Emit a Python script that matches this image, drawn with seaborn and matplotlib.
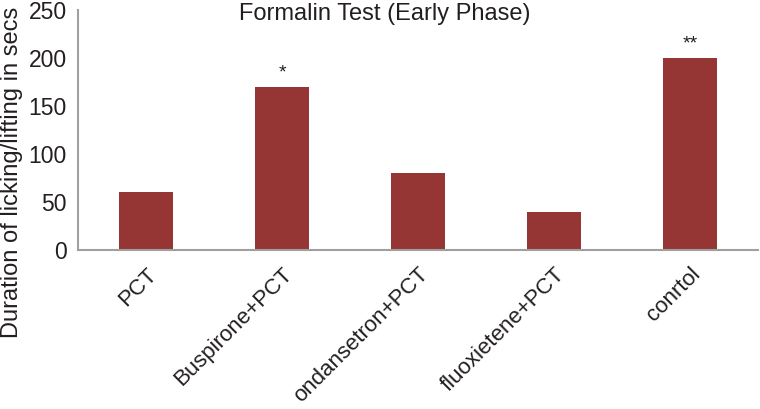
import matplotlib
matplotlib.use("Agg")
import matplotlib.pyplot as plt
import seaborn as sns
import pandas as pd

# Data
groups = ["PCT", "Buspirone+PCT", "ondansetron+PCT", "fluoxietene+PCT", "conrtol"]
duration = [60, 170, 80, 40, 200]
signif = ["", "*", "", "", "**"]

df = pd.DataFrame({"group": groups, "duration": duration})

sns.set_style("white")
plt.rcParams["font.family"] = ["Liberation Sans", "DejaVu Sans"]

GRAY = "#a0a0a0"
TXT = "#231f20"

fig = plt.figure(figsize=(7.6, 4.09), dpi=100)
ax = fig.add_axes([78 / 760, 1 - 250 / 409, 680 / 760, 240 / 409])

sns.barplot(data=df, x="group", y="duration", color="#963634", width=0.4,
            saturation=1, linewidth=0, ax=ax)

for i, (v, s) in enumerate(zip(duration, signif)):
    if s:
        ax.text(i, v + 6, s, ha="center", va="bottom", fontsize=14, color=TXT)

ax.set_xlim(-0.5, 4.5)
ax.set_ylim(0, 250)
ax.set_yticks([0, 50, 100, 150, 200, 250])
ax.set_xlabel("")
ax.set_ylabel("Duration of licking/lifting in secs", fontsize=17, color=TXT)
ax.yaxis.label.set_va("center")
ax.yaxis.set_label_coords((12 - 78) / 680, (250 - 172) / 240)

# x ticks sit between categories, labels at category centres
ax.set_xticks([-0.5, 0.5, 1.5, 2.5, 3.5, 4.5])
ax.set_xticklabels([])
ax.set_xticks(range(len(groups)), minor=True)
ax.set_xticklabels(groups, minor=True, rotation=45, ha="right",
                   rotation_mode="anchor", fontsize=16, color=TXT)
ax.tick_params(axis="x", which="minor", length=0, pad=10)
ax.tick_params(axis="x", which="major", direction="out", length=6, width=1.2, color=GRAY)
ax.tick_params(axis="y", direction="out", length=6, width=1.2, color=GRAY,
               labelsize=16.5, labelcolor=TXT, pad=2)

sns.despine(ax=ax)
for side in ["left", "bottom"]:
    ax.spines[side].set_color(GRAY)
    ax.spines[side].set_linewidth(1.5)

fig.text(385 / 760, 1 - 14 / 409, "Formalin Test (Early Phase)", ha="center",
         va="center", fontsize=17, color=TXT)

fig.savefig("out.png", dpi=100)
